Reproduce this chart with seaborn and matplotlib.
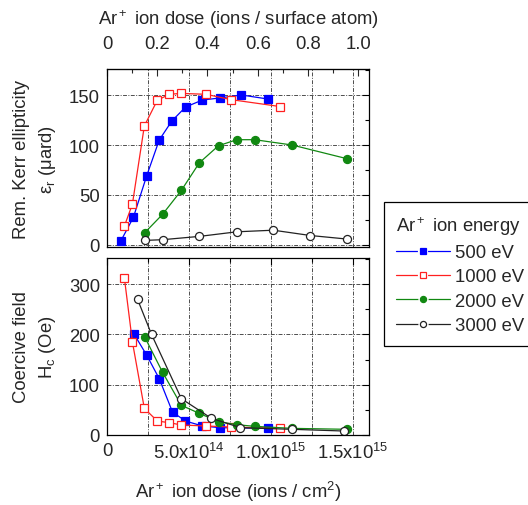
import numpy as np
import pandas as pd
import matplotlib
matplotlib.use("Agg")
import matplotlib.pyplot as plt
import seaborn as sns
from matplotlib.ticker import MultipleLocator, FixedLocator
from matplotlib.lines import Line2D
from matplotlib.legend_handler import HandlerLine2D, HandlerTuple

# ---------------- data (dose in units of 1e14 ions/cm^2) ----------------
kerr_500_x = [0.83, 1.61, 2.42, 3.19, 3.96, 4.80, 5.83, 6.89, 8.21, 9.82]
kerr_500_y = [3.6, 27.6, 69, 105, 124, 138, 145, 147, 150, 146]
kerr_1000_x = [1.06, 1.55, 2.28, 3.07, 3.80, 4.54, 6.04, 7.56, 10.55]
kerr_1000_y = [18.8, 40.8, 119, 144.7, 150.7, 151.6, 150.7, 145.4, 138.5]
kerr_2000_x = [2.30, 3.39, 4.54, 5.64, 6.81, 7.93, 9.02, 11.30, 14.68]
kerr_2000_y = [12.2, 30.6, 54.6, 82.2, 99.3, 105.3, 105.3, 100, 86.2]
kerr_3000_x = [2.32, 3.39, 5.64, 7.93, 10.16, 12.42, 14.68]
kerr_3000_y = [4.6, 5.3, 8.6, 13.2, 14.8, 9.5, 5.9]

hc_500_x = [1.65, 2.42, 3.19, 4.00, 4.79, 5.83, 6.89, 9.82]
hc_500_y = [200.7, 159, 112, 45.7, 27.8, 17.9, 14.6, 13.2]
hc_1000_x = [1.06, 1.55, 2.28, 3.07, 3.80, 4.54, 6.04, 7.56, 10.55]
hc_1000_y = [312.6, 185.4, 53, 27.8, 24.5, 19.9, 17.9, 15.9, 13.2]
hc_2000_x = [2.30, 3.39, 4.54, 5.64, 6.81, 7.93, 9.02, 11.30, 14.68]
hc_2000_y = [195, 125, 59, 43, 26.5, 20.5, 17.2, 13.2, 11.3]
hc_3000_x = [1.87, 2.72, 4.54, 6.38, 8.15, 11.30, 14.47]
hc_3000_y = [269.5, 200, 72.2, 33.1, 14.6, 11.3, 7.9]

energies = ["500 eV", "1000 eV", "2000 eV", "3000 eV"]
bottom_ticks = [0, 5e14, 1e15, 1.5e15]
bottom_ticklabels = ["0", "5.0x10$^{14}$", "1.0x10$^{15}$", "1.5x10$^{15}$"]
top_ticks = [0, 0.2, 0.4, 0.6, 0.8, 1.0]
top_ticklabels = ["0", "0.2", "0.4", "0.6", "0.8", "1.0"]
ions_per_atom = 1.534e15  # ions/cm^2 per surface atom

styles = {
    "500 eV": dict(color="#0000ff", marker="s", mfc="#0000ff", mec="#0000ff"),
    "1000 eV": dict(color="#ff2020", marker="s", mfc="white", mec="#ff2020"),
    "2000 eV": dict(color="#118811", marker="o", mfc="#118811", mec="#118811"),
    "3000 eV": dict(color="#222222", marker="o", mfc="white", mec="#222222"),
}

kerr = {"500 eV": (kerr_500_x, kerr_500_y), "1000 eV": (kerr_1000_x, kerr_1000_y),
        "2000 eV": (kerr_2000_x, kerr_2000_y), "3000 eV": (kerr_3000_x, kerr_3000_y)}
hc = {"500 eV": (hc_500_x, hc_500_y), "1000 eV": (hc_1000_x, hc_1000_y),
      "2000 eV": (hc_2000_x, hc_2000_y), "3000 eV": (hc_3000_x, hc_3000_y)}

sns.set_style("white")
plt.rcParams["font.family"] = ["Liberation Sans", "DejaVu Sans"]
plt.rcParams["mathtext.fontset"] = "custom"
plt.rcParams["mathtext.rm"] = "Liberation Sans"
plt.rcParams["mathtext.it"] = "Liberation Sans:italic"
plt.rcParams["mathtext.bf"] = "Liberation Sans:bold"
plt.rcParams["legend.numpoints"] = 1
FS = 13.3

fig = plt.figure(figsize=(5.28, 5.06), dpi=100)
L, R = 107 / 528, 369 / 528
ax1 = fig.add_axes([L, 1 - 248 / 506, R - L, (248 - 70) / 506])
ax2 = fig.add_axes([L, 1 - 436 / 506, R - L, (436 - 259) / 506])

def draw(ax, data):
    for e in energies:
        xs, ys = data[e]
        df = pd.DataFrame({"dose": np.array(xs) * 1e14, "val": ys})
        st = styles[e]
        sns.lineplot(data=df, x="dose", y="val", ax=ax, sort=False, estimator=None,
                     color=st["color"], marker=st["marker"], markersize=5.8,
                     markerfacecolor=st["mfc"], markeredgecolor=st["mec"],
                     markeredgewidth=0.9, linewidth=0.9, legend=False)

draw(ax1, kerr)
draw(ax2, hc)

grid_kw = dict(color="0.3", linestyle=(0, (4, 1.5, 1, 1.5)), linewidth=0.7)
for ax in (ax1, ax2):
    ax.set_xlim(0, 1.6e15)
    ax.xaxis.set_major_locator(FixedLocator(bottom_ticks))
    ax.xaxis.set_minor_locator(MultipleLocator(2.5e14))
    ax.tick_params(which="both", direction="in", top=True, right=True,
                   labelsize=FS, width=0.8, color="black", pad=5)
    ax.tick_params(which="major", length=5)
    ax.tick_params(which="minor", length=3)
    ax.grid(True, which="both", axis="x", **grid_kw)
    ax.grid(True, which="major", axis="y", **grid_kw)
    for s in ax.spines.values():
        s.set_color("black")
        s.set_linewidth(0.9)
    ax.set_xlabel("")
    ax.set_ylabel("")

ax1.set_ylim(-2, 176)
ax1.yaxis.set_major_locator(FixedLocator([0, 50, 100, 150]))
ax1.yaxis.set_minor_locator(MultipleLocator(25))
ax1.tick_params(axis="x", which="both", top=False, labelbottom=False)
ax1.set_ylabel("Rem. Kerr ellipticity\n\u03b5$_\\mathrm{r}$ (\u03bcard)", fontsize=FS,
               linespacing=1.45, labelpad=8)

sec = ax1.secondary_xaxis("top", functions=(lambda x: x / ions_per_atom, lambda t: t * ions_per_atom))
sec.set_xticks(top_ticks)
sec.set_xticklabels(top_ticklabels)
sec.xaxis.set_minor_locator(MultipleLocator(0.1))
sec.tick_params(which="both", direction="in", labelsize=FS, width=0.8, pad=12)
sec.tick_params(which="major", length=5)
sec.tick_params(which="minor", length=3)
sec.set_xlabel("Ar$^+$ ion dose (ions / surface atom)", fontsize=FS, labelpad=8)

ax2.set_ylim(0, 352)
ax2.yaxis.set_major_locator(FixedLocator([0, 100, 200, 300]))
ax2.yaxis.set_minor_locator(MultipleLocator(50))
ax2.set_xticklabels(bottom_ticklabels)
ax2.set_ylabel("Coercive field\nH$_\\mathrm{c}$ (Oe)", fontsize=FS, linespacing=1.45, labelpad=8)
ax2.set_xlabel("Ar$^+$ ion dose (ions / cm$^2$)", fontsize=FS, labelpad=12)

handles = []
for e in energies:
    st = styles[e]
    ln = Line2D([], [], color=st["color"], linewidth=0.9)
    gap = Line2D([], [], linestyle="none", marker=st["marker"], markersize=4.4,
                 markerfacecolor="white", markeredgecolor="white", markeredgewidth=3.0)
    mk = Line2D([], [], linestyle="none", marker=st["marker"], markersize=4.4,
                markerfacecolor=st["mfc"], markeredgecolor=st["mec"], markeredgewidth=0.9)
    handles.append((ln, gap, mk))

leg = fig.legend(handles=handles, labels=energies, title="Ar$^+$ ion energy",
                 loc="upper left", bbox_to_anchor=(384 / 528, 1 - 203 / 506),
                 bbox_transform=fig.transFigure, fontsize=FS, title_fontsize=FS,
                 frameon=True, fancybox=False, edgecolor="black", framealpha=1,
                 handlelength=2.9, handletextpad=0.3, labelspacing=0.4,
                 borderpad=0.65, alignment="left", borderaxespad=0,
                 handler_map={tuple: HandlerTuple(ndivide=1, pad=0),
                              Line2D: HandlerLine2D(numpoints=1)})
leg.get_frame().set_linewidth(0.9)

fig.savefig("out.png", dpi=100)
